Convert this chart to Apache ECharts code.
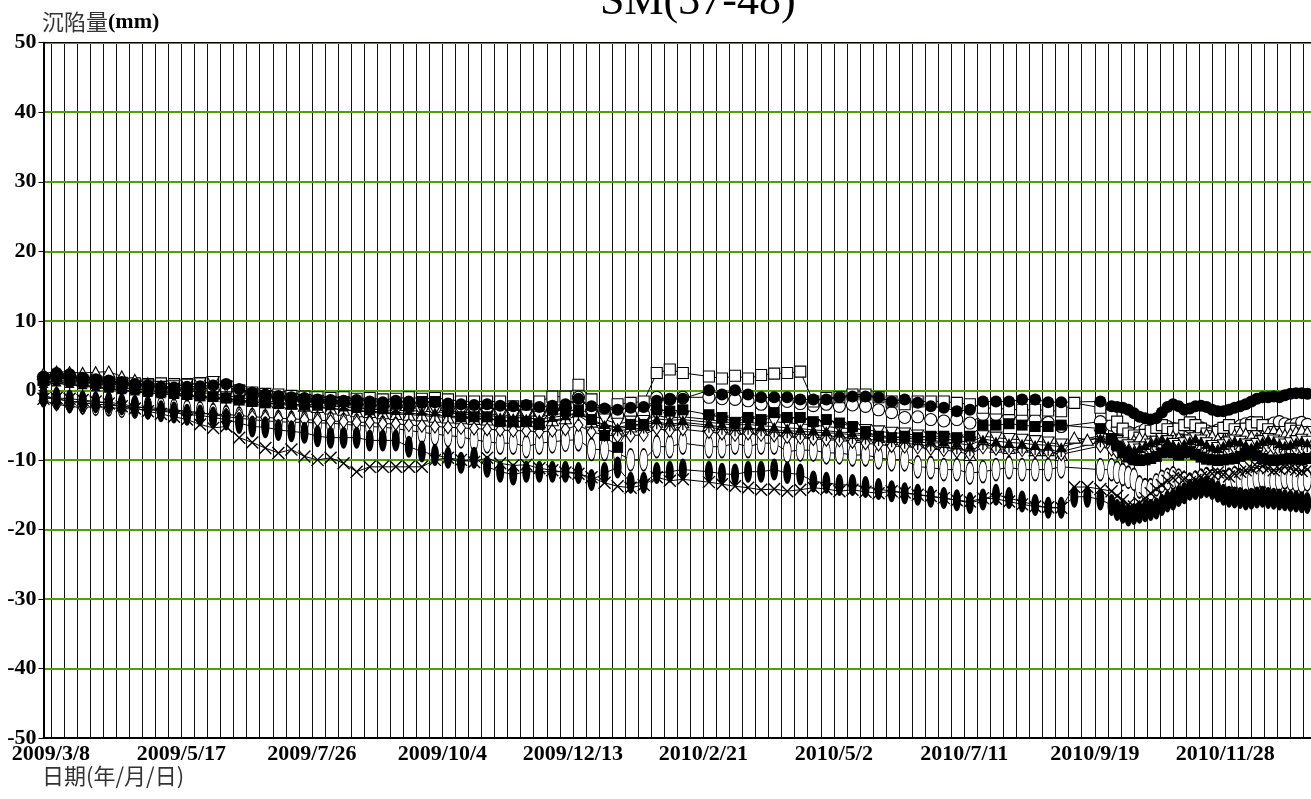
<!DOCTYPE html>
<html><head><meta charset="utf-8">
<script src="https://cdn.jsdelivr.net/npm/echarts@6/dist/echarts.min.js"></script>
<style>html,body{margin:0;padding:0;background:#fff;overflow:hidden}#c{width:1311px;height:799px}</style>
</head><body><div id="c"></div>
<script>
// ---------- data ----------
const axisStart = '2009-03-04';
const axisEnd = '2011-01-13';
const tickStart = '2009-03-08';
const xTickLabels = ['2009/3/8','2009/5/17','2009/7/26','2009/10/4','2009/12/13','2010/2/21','2010/5/2','2010/7/11','2010/9/19','2010/11/28'];
const yMin = -50, yMax = 50, yStep = 10;

const dates = [
'2009-03-04','2009-03-11','2009-03-18','2009-03-25','2009-04-01','2009-04-08','2009-04-15','2009-04-22','2009-04-29','2009-05-06',
'2009-05-13','2009-05-20','2009-05-27','2009-06-03','2009-06-10','2009-06-17','2009-06-24','2009-07-01','2009-07-08','2009-07-15',
'2009-07-22','2009-07-29','2009-08-05','2009-08-12','2009-08-19','2009-08-26','2009-09-02','2009-09-09','2009-09-16','2009-09-23',
'2009-09-30','2009-10-07','2009-10-14','2009-10-21','2009-10-28','2009-11-04','2009-11-11','2009-11-18','2009-11-25','2009-12-02',
'2009-12-09','2009-12-16','2009-12-23','2009-12-30','2010-01-06','2010-01-13','2010-01-20','2010-01-27','2010-02-03','2010-02-10',
'2010-02-24','2010-03-03','2010-03-10','2010-03-17','2010-03-24','2010-03-31','2010-04-07','2010-04-14','2010-04-21',
'2010-04-28','2010-05-05','2010-05-12','2010-05-19','2010-05-26','2010-06-02','2010-06-09','2010-06-16','2010-06-23','2010-06-30',
'2010-07-07','2010-07-14','2010-07-21','2010-07-28','2010-08-04','2010-08-11','2010-08-18','2010-08-25','2010-09-01','2010-09-08','2010-09-15','2010-09-22',
'2010-09-28','2010-10-01','2010-10-04','2010-10-07','2010-10-10','2010-10-13','2010-10-16','2010-10-19','2010-10-22','2010-10-25',
'2010-10-28','2010-10-31','2010-11-03','2010-11-06','2010-11-09','2010-11-12','2010-11-15','2010-11-18','2010-11-21','2010-11-24',
'2010-11-27','2010-11-30','2010-12-03','2010-12-06','2010-12-09','2010-12-12','2010-12-15','2010-12-18','2010-12-21','2010-12-24',
'2010-12-27','2010-12-30','2011-01-02','2011-01-05','2011-01-08','2011-01-11'
];

const sm37 = [
2.0,2.5,2.3,1.8,1.6,1.4,1.2,0.9,0.7,0.5,
0.4,0.5,0.6,0.7,0.9,0.2,-0.3,-0.6,-0.8,-1.0,
-1.1,-1.3,-1.4,-1.5,-1.4,-1.6,-1.7,-1.5,-1.6,-1.8,
-1.7,-1.9,-2.0,-2.1,-2.0,-2.2,-2.3,-2.1,-2.4,-2.2,
-2.0,-1.2,-2.3,-2.6,-2.8,-2.5,-2.4,-1.5,-1.3,-1.2,
0.0,-0.6,0.0,-0.6,-1.0,-1.0,-1.0,-1.3,-1.3,
-1.3,-1.0,-0.9,-0.9,-1.0,-1.6,-1.3,-1.8,-2.3,-2.5,
-3.0,-2.8,-1.6,-1.6,-1.6,-1.3,-1.3,-1.7,-1.7,null,null,-1.6,
-2.3,-2.4,-2.5,-2.8,-3.3,-3.8,-4.0,-4.2,-4.0,-3.2,
-2.4,-2.0,-2.3,-2.8,-2.6,-2.3,-2.2,-2.4,-2.8,-3.0,
-3.0,-2.8,-2.5,-2.3,-2.0,-1.6,-1.2,-1.0,-1.0,-0.9,
-1.0,-0.7,-0.5,-0.4,-0.4,-0.5
];
const sm38 = [
1.8,2.2,2.0,1.7,1.5,1.2,1.0,0.8,0.6,0.4,
0.2,0.1,0.3,0.2,0.0,-0.4,-0.7,-0.9,-1.1,-1.3,
-1.5,-1.6,-1.8,-1.9,-2.0,-2.1,-2.2,-2.3,-2.2,-2.4,
-2.5,-2.6,-2.7,-2.8,-2.7,-2.9,-3.0,-2.9,-3.1,-2.8,
-2.5,-1.0,-2.9,-3.3,-3.6,-3.5,-3.5,-1.0,-1.3,-1.0,
-1.0,-1.2,-1.3,-1.5,-2.0,-1.8,-1.6,-1.9,-2.2,
-2.0,-2.3,-2.1,-2.3,-2.8,-3.2,-3.9,-3.8,-4.2,-4.4,
-4.2,-4.7,-3.5,-3.5,-3.8,-4.0,-4.2,-4.6,-5.2,null,null,-4.5,
-5.0,-5.4,-5.8,-6.0,-6.3,-6.0,-5.6,-5.8,-6.1,-5.7,
-5.2,-5.5,-5.9,-5.6,-5.3,-5.0,-5.4,-5.8,-6.0,-5.7,
-5.4,-5.2,-5.5,-5.1,-4.8,-4.6,-4.9,-5.2,-5.0,-4.7,
-4.5,-4.8,-5.0,-4.8,-4.6,-4.9
];
const sm39 = [
1.5,1.8,1.6,1.4,1.3,1.1,1.1,1.0,0.9,1.0,
0.9,0.9,1.0,1.2,0.6,0.0,-0.3,-0.5,-0.6,-0.8,
-0.9,-1.0,-1.1,-1.0,-1.2,-1.1,-1.3,-1.2,-1.0,-1.2,
-1.1,-1.3,-1.6,-1.6,-1.6,-1.6,-2.3,-2.3,-1.6,-0.9,
-0.9,0.8,-1.3,-3.0,-2.0,-1.8,-1.6,2.5,3.0,2.5,
2.0,1.7,2.1,1.7,2.2,2.4,2.5,2.7,-1.6,
-1.1,-1.0,-0.6,-0.6,-1.0,-1.6,-2.0,-1.6,-1.6,-1.6,
-1.8,-2.0,-2.5,-2.6,-2.7,-2.8,-2.8,-2.9,-3.0,-1.8,null,-2.5,
-3.5,-4.5,-5.5,-6.2,-6.5,-6.8,-6.4,-5.8,-5.4,-5.0,
-5.6,-6.0,-5.5,-5.0,-4.6,-5.0,-5.5,-6.2,-6.6,-6.0,
-5.4,-5.0,-5.6,-6.0,-5.5,-5.0,-4.6,-5.0,-5.6,-6.0,
-6.4,-6.0,-5.5,-5.8,-6.2,-6.0
];
const sm40 = [
1.6,1.9,1.5,1.2,1.0,0.6,0.4,0.2,0.0,-0.2,
-0.4,-0.6,-0.8,-0.9,-1.1,-1.4,-1.6,-1.8,-1.9,-2.0,
-2.1,-2.0,-1.6,-1.6,-2.3,-2.8,-2.6,-2.0,-2.3,-1.6,
-1.6,-2.8,-3.8,-3.8,-3.8,-4.5,-4.5,-4.5,-4.9,-2.8,
-3.0,-2.8,-4.2,-6.5,-8.2,-4.9,-4.9,-2.8,-3.0,-2.8,
-3.5,-3.9,-4.6,-3.9,-4.2,-3.2,-3.9,-3.9,-4.5,
-4.2,-4.7,-5.2,-5.9,-6.6,-6.8,-6.6,-6.8,-6.6,-6.6,
-6.8,-6.6,-5.0,-5.0,-4.8,-5.0,-5.2,-5.2,-5.0,null,null,-5.5,
-7.0,-8.0,-9.0,-9.6,-10.0,-10.1,-10.0,-9.8,-9.5,-9.0,
-8.8,-9.0,-9.3,-9.0,-8.8,-9.2,-9.6,-9.9,-10.0,-10.1,
-10.0,-9.9,-9.8,-9.5,-9.2,-9.0,-9.4,-9.8,-10.0,-10.1,
-10.0,-9.9,-9.8,-9.9,-10.0,-9.8
];
const sm41 = [
2.4,2.7,2.6,2.5,2.6,2.7,2.0,1.5,1.0,0.6,
0.3,0.0,-0.3,-0.5,-0.8,-1.0,-1.3,-1.5,-1.7,-1.9,
-2.2,-2.4,-2.6,-2.8,-3.0,-3.1,-3.3,-3.4,-3.5,-3.6,
-3.8,-3.9,-4.0,-4.1,-4.2,-4.3,-4.5,-4.4,-4.6,-4.3,
-4.0,-3.0,-4.5,-5.0,-5.5,-5.2,-5.0,-4.5,-4.9,-4.6,
-5.0,-5.3,-5.5,-5.4,-5.6,-5.7,-5.8,-5.9,-6.0,
-6.1,-6.2,-6.4,-6.5,-6.7,-7.0,-7.2,-7.4,-7.6,-7.5,
-7.8,-9.3,-7.2,-8.1,-8.3,-8.1,-8.6,-8.6,-9.3,-6.8,-7.1,-6.8,
-7.5,-8.1,-8.0,-7.6,-7.2,-6.8,-7.0,-7.4,-7.8,-7.5,
-7.0,-6.6,-6.8,-7.2,-7.5,-7.0,-6.6,-6.3,-6.6,-7.0,
-7.2,-6.8,-6.4,-6.0,-6.2,-6.6,-6.9,-6.5,-6.0,-5.8,
-6.1,-6.4,-6.2,-5.9,-5.7,-6.0
];
const sm42 = [
1.2,1.4,1.3,1.1,1.0,0.9,0.8,0.6,0.7,0.5,
0.6,0.8,1.0,1.2,0.5,-0.2,-0.6,-0.8,-1.0,-1.2,
-1.4,-1.5,-1.7,-1.8,-2.0,-2.1,-2.2,-2.4,-2.5,-2.6,
-2.8,-3.0,-3.1,-3.3,-3.4,-3.5,-3.7,-3.6,-3.8,-3.5,
-3.3,-2.5,-3.6,-4.2,-4.8,-4.5,-4.4,-3.6,-4.0,-3.8,
-4.2,-4.5,-4.7,-4.6,-4.8,-4.5,-4.7,-4.8,-5.0,
-5.2,-5.4,-5.5,-5.7,-5.9,-6.1,-6.2,-6.5,-6.8,-7.0,
-7.2,-7.5,-6.6,-6.8,-7.0,-7.1,-7.3,-7.5,-7.8,null,null,-6.5,
-7.0,-7.3,-7.6,-7.9,-8.2,-8.5,-8.2,-7.8,-7.4,-7.0,
-7.3,-7.7,-8.0,-7.6,-7.2,-6.9,-7.2,-7.6,-8.0,-8.3,
-7.9,-7.5,-7.2,-7.4,-7.8,-8.0,-7.7,-7.3,-7.0,-7.2,
-7.5,-7.8,-7.6,-7.3,-7.1,-7.4
];
const sm43 = [
-1.2,-1.1,-1.2,-1.4,-1.6,-1.9,-2.3,-2.6,-3.0,-3.4,
-3.8,-4.2,-4.9,-5.4,-5.2,-6.8,-7.5,-8.3,-9.0,-8.5,
-9.5,-10.0,-9.7,-10.5,-11.7,-11.0,-11.0,-11.0,-11.0,-11.0,
-10.0,-9.7,-10.0,-10.3,-9.7,-10.5,-10.8,-10.7,-11.2,-11.5,
-11.8,-12.0,-12.5,-13.3,-13.8,-14.0,-13.6,-12.5,-13.0,-12.8,
-13.2,-13.5,-13.8,-14.0,-14.3,-14.2,-14.5,-14.3,-14.0,
-14.2,-14.5,-14.3,-14.6,-14.8,-14.5,-14.7,-15.0,-15.2,-15.5,
-15.8,-16.0,-15.5,-15.6,-16.0,-16.4,-16.7,-16.8,-16.9,-13.9,-13.9,-14.2,
-14.5,-15.2,-15.8,-16.4,-16.7,-16.2,-15.5,-14.8,-14.2,-13.6,
-13.0,-12.6,-12.4,-12.8,-13.2,-12.9,-12.5,-12.2,-12.0,-11.8,
-12.1,-12.4,-12.0,-11.7,-11.5,-11.2,-11.0,-10.9,-11.2,-11.5,
-11.3,-11.0,-11.2,-11.4,-11.6,-11.4
];
const sm44 = [
-0.8,-1.2,-1.6,-1.8,-2.0,-2.1,-2.3,-2.4,-2.5,-2.6,
-2.8,-3.0,-3.2,-3.5,-3.8,-4.0,-4.2,-4.4,-4.5,-4.6,
-4.6,-4.7,-4.7,-4.9,-5.0,-5.2,-5.3,-5.5,-5.8,-6.0,
-6.3,-6.5,-6.7,-7.1,-7.4,-7.6,-7.6,-8.1,-7.6,-7.4,
-7.2,-7.1,-8.5,-8.5,-9.0,-10.0,-10.0,-8.1,-8.1,-7.6,
-8.1,-8.1,-7.6,-8.1,-7.6,-7.6,-8.8,-8.6,-8.6,
-9.0,-9.0,-9.3,-9.3,-9.7,-10.0,-10.0,-11.0,-11.1,-11.4,
-11.4,-11.9,-11.7,-11.4,-11.1,-11.4,-11.4,-11.4,-11.0,null,null,-11.4,
-11.4,-11.8,-12.1,-12.5,-12.8,-13.9,-14.3,-14.3,-13.6,-13.1,
-12.8,-12.6,-12.9,-13.3,-13.5,-13.2,-12.9,-12.7,-13.0,-13.3,
-13.1,-12.8,-12.6,-12.9,-13.2,-13.0,-12.7,-12.5,-12.8,-13.1,
-12.9,-12.6,-12.8,-13.0,-13.2,-12.9
];
const sm45 = [
-0.8,-1.2,-1.6,-1.6,-1.7,-1.7,-2.0,-2.3,-2.6,-3.0,
-3.2,-3.5,-3.6,-3.9,-4.2,-4.7,-5.2,-5.3,-5.7,-5.9,
-6.1,-6.6,-6.8,-6.8,-6.8,-7.2,-7.2,-7.2,-8.1,-8.8,
-9.3,-9.7,-10.4,-9.7,-11.0,-11.7,-12.1,-11.7,-11.7,-11.7,
-11.7,-11.9,-12.9,-11.9,-11.1,-13.3,-13.3,-11.9,-11.7,-11.4,
-11.7,-12.0,-12.1,-11.7,-11.7,-11.4,-11.9,-12.1,-13.1,
-13.3,-13.6,-13.6,-13.9,-14.2,-14.5,-14.8,-15.0,-15.3,-15.5,
-15.8,-16.2,-15.7,-15.0,-15.5,-16.0,-16.5,-16.9,-16.9,-15.3,-15.3,-15.7,
-16.5,-17.2,-17.6,-18.0,-17.8,-17.6,-17.4,-17.2,-17.0,-16.5,
-16.0,-15.7,-15.2,-14.8,-14.3,-14.2,-14.0,-13.9,-14.2,-14.6,
-15.0,-15.3,-15.4,-15.5,-15.7,-15.6,-15.4,-15.3,-15.5,-15.6,
-15.7,-15.8,-15.9,-16.0,-16.1,-16.2
];
const sm46 = [
-1.5,-2.0,-2.3,-2.5,-2.3,-2.5,-2.6,-2.7,-2.8,-2.9,
-3.0,-3.2,-3.3,-3.4,-3.5,-3.6,-3.8,-3.9,-4.0,-4.1,
-4.2,-4.3,-4.4,-4.5,-4.6,-4.6,-4.8,-4.8,-5.0,-5.1,
-5.2,-5.3,-5.4,-5.5,-5.6,-5.7,-5.8,-5.8,-6.0,-5.8,
-5.6,-5.0,-6.0,-6.4,-6.6,-6.5,-6.4,-5.5,-5.8,-5.6,
-6.0,-6.2,-6.4,-6.2,-6.4,-6.5,-6.7,-6.8,-7.0,
-7.1,-7.2,-7.4,-7.6,-7.8,-8.0,-8.1,-8.2,-8.4,-8.6,
-8.8,-9.2,-8.2,-8.4,-8.5,-8.6,-8.8,-8.9,-9.2,null,null,-8.0,
-8.5,-8.9,-9.3,-9.6,-9.8,-9.5,-9.0,-8.6,-8.3,-8.0,
-8.4,-8.8,-9.1,-8.7,-8.3,-8.0,-8.4,-8.8,-9.2,-9.4,
-9.0,-8.6,-8.3,-8.5,-8.9,-9.2,-8.8,-8.4,-8.1,-8.3,
-8.7,-9.0,-8.8,-8.5,-8.3,-8.6
];
const sm47 = [
0.8,1.0,0.8,0.6,0.4,0.2,0.0,-0.2,-0.4,-0.5,
-0.7,-0.8,-1.0,-1.1,-1.3,-1.5,-1.7,-1.9,-2.0,-2.2,
-2.3,-2.5,-2.6,-2.8,-2.9,-3.0,-3.1,-3.2,-3.3,-3.4,
-3.5,-3.7,-3.8,-4.0,-4.1,-4.3,-4.4,-4.5,-4.6,-4.4,
-4.2,-3.6,-4.8,-5.3,-5.8,-5.6,-5.4,-4.8,-5.1,-4.9,
-5.3,-5.6,-5.8,-5.6,-5.8,-6.0,-6.1,-6.3,-6.4,
-6.5,-6.7,-6.9,-7.0,-7.2,-7.4,-7.6,-7.8,-8.0,-8.2,
-8.4,-8.7,-7.8,-8.0,-8.2,-8.3,-8.5,-8.6,-8.8,null,null,-7.4,
-7.8,-8.2,-8.6,-8.9,-9.2,-8.9,-8.5,-8.1,-7.8,-7.5,
-7.9,-8.3,-8.6,-8.2,-7.8,-7.5,-7.9,-8.3,-8.7,-8.9,
-8.5,-8.1,-7.8,-8.0,-8.4,-8.7,-8.3,-7.9,-7.6,-7.8,
-8.2,-8.5,-8.3,-8.0,-7.8,-8.1
];
const sm48 = [
1.0,1.2,1.0,0.8,0.5,0.3,0.1,-0.1,-0.3,-0.5,
-0.6,-0.7,-0.9,-1.0,-1.2,-1.4,-1.6,-1.8,-1.9,-2.0,
-2.2,-2.3,-2.2,-2.4,-2.6,-2.7,-2.8,-2.9,-2.9,-3.0,
-3.1,-3.2,-3.4,-3.5,-3.6,-3.8,-3.9,-4.0,-4.1,-3.9,
-3.6,-3.2,-4.3,-4.9,-5.3,-5.0,-4.9,-4.1,-4.3,-4.2,
-4.6,-4.8,-5.0,-4.9,-5.1,-5.2,-5.4,-5.5,-5.7,
-5.8,-6.0,-6.1,-6.3,-6.5,-6.7,-6.9,-7.0,-7.2,-7.4,
-7.6,-7.9,-7.0,-7.3,-7.5,-7.6,-7.8,-7.9,-8.1,null,null,-6.8,
-7.2,-7.6,-8.0,-8.3,-8.6,-8.3,-7.9,-7.5,-7.2,-6.9,
-7.3,-7.7,-8.0,-7.6,-7.2,-6.9,-7.3,-7.7,-8.1,-8.3,
-7.9,-7.5,-7.2,-7.4,-7.8,-8.1,-7.7,-7.3,-7.0,-7.2,
-7.6,-7.9,-7.7,-7.4,-7.2,-7.5
];

// ---------- chart ----------
const DAY = 86400000;
function dnum(s){ const p = s.split('-').map(Number); return Date.UTC(p[0], p[1]-1, p[2]) / DAY; }
const d0 = dnum(axisStart), dEnd = dnum(axisEnd), dTick = dnum(tickStart);
const W = 1311;
const gridLeft = 43.5, gridTop = 42.7, gridBottom = 61;
const pxDay = (W - gridLeft) / (dEnd - d0);
const grid2Left = gridLeft + (dTick - d0) * pxDay;

const ellipse = 'path://M4,0C6.2,0 8,4.9 8,11C8,17.1 6.2,22 4,22C1.8,22 0,17.1 0,11C0,4.9 1.8,0 4,0Z';
// open markers first, filled markers drawn on top
const styles = [
  {name:'SM38', data:sm38, symbol:'circle', size:12, fill:'#fff', bw:1.1},
  {name:'SM39', data:sm39, symbol:'rect', size:11, fill:'#fff', bw:1.1},
  {name:'SM41', data:sm41, symbol:'triangle', size:[12,11], fill:'#fff', bw:1.1},
  {name:'SM42', data:sm42, symbol:'path://M0,0L12,0L6,11Z', size:[12,11], fill:'#fff', bw:1.1},
  {name:'SM44', data:sm44, symbol:ellipse, size:[8,22], fill:'#fff', bw:1.1},
  {name:'SM46', data:sm46, symbol:'diamond', size:[9,13], fill:'#fff', bw:1.1},
  {name:'SM47', data:sm47, symbol:'path://M5,0L5,10M0,5L10,5', size:11, fill:'#000', bw:1.3},
  {name:'SM43', data:sm43, symbol:'path://M0,0L10,10M10,0L0,10', size:12, fill:'#000', bw:1.4},
  {name:'SM48', data:sm48, symbol:'triangle', size:[10,9], fill:'#000', bw:0},
  {name:'SM40', data:sm40, symbol:'rect', size:11, fill:'#000', bw:0},
  {name:'SM45', data:sm45, symbol:ellipse, size:[8,22], fill:'#000', bw:0},
  {name:'SM37', data:sm37, symbol:'circle', size:12, fill:'#000', bw:0}
];

const series = styles.map(s => ({
  type:'line', name:s.name, xAxisIndex:0, yAxisIndex:0,
  data: dates.map((d, j) => [dnum(d) - d0, s.data[j]]),
  symbol:s.symbol, symbolSize:s.size, connectNulls:true,
  lineStyle:{color:'#000', width:1},
  itemStyle:{color:s.fill, borderColor:'#000', borderWidth:s.bw},
  emphasis:{disabled:true}, silent:true, z:2
}));

const chart = echarts.init(document.getElementById('c'), null, {renderer:'canvas'});
chart.setOption({
  animation:false,
  backgroundColor:'#fff',
  title:[
    {text:'SM(37-48)', left:600, top:-20, padding:0,
     textStyle:{fontFamily:'Liberation Serif', fontSize:44, fontWeight:'normal', color:'#000'}},
    {text:'{a|沉陷量}{b|(mm)}', left:42, top:11, padding:0,
     textStyle:{fontWeight:'normal',
       rich:{a:{fontFamily:'Noto Sans CJK TC', fontSize:22, fontWeight:'normal', color:'#333'},
             b:{fontFamily:'Liberation Serif', fontSize:22, fontWeight:'bold', color:'#000'}}}},
    {text:'日期(年/月/日)', left:42, top:765, padding:0,
     textStyle:{fontFamily:'Noto Sans CJK TC', fontSize:22, fontWeight:'normal', color:'#333'}}
  ],
  grid:[
    {left:gridLeft, right:0, top:gridTop, bottom:gridBottom, containLabel:false, outerBoundsMode:'none'},
    {left:grid2Left, right:0, top:gridTop, bottom:gridBottom, containLabel:false, outerBoundsMode:'none'}
  ],
  xAxis:[
    {gridIndex:0, type:'value', min:0, max:dEnd - d0, position:'bottom', z:4,
     axisLine:{show:true, onZero:false, lineStyle:{color:'#000', width:2}},
     axisTick:{show:false}, axisLabel:{show:false}, splitLine:{show:false}},
    {gridIndex:1, type:'value', min:0, max:dEnd - dTick, interval:7, position:'bottom', z:0,
     axisLine:{show:false, onZero:false}, axisTick:{show:false},
     splitLine:{show:true, lineStyle:{color:'#111', width:1}},
     axisLabel:{show:true, margin:5, fontFamily:'Liberation Serif', fontSize:22, fontWeight:'bold', color:'#000',
       showMaxLabel:false, hideOverlap:false,
       formatter:v => (v % 70 === 0 && xTickLabels[v/70]) ? xTickLabels[v/70] : ''}},
    {gridIndex:0, type:'value', min:0, max:dEnd - d0, position:'top', z:4,
     axisLine:{show:true, onZero:false, lineStyle:{color:'#000', width:1}},
     axisTick:{show:false}, axisLabel:{show:false}, splitLine:{show:false}}
  ],
  yAxis:[
    {gridIndex:0, type:'value', min:yMin, max:yMax, interval:yStep, z:1,
     axisLine:{show:true, onZero:false, lineStyle:{color:'#000', width:2}},
     axisTick:{show:true, length:5, lineStyle:{color:'#000', width:1}},
     axisLabel:{margin:7, fontFamily:'Liberation Serif', fontWeight:'bold', fontSize:22, color:'#000'},
     splitLine:{show:true, lineStyle:{color:'#4fa000', width:2}}},
    {gridIndex:1, type:'value', min:yMin, max:yMax, show:false}
  ],
  series:series
});
</script>
</body></html>
